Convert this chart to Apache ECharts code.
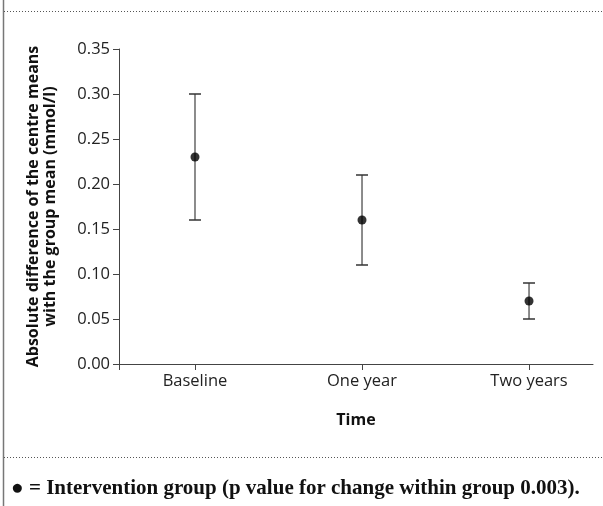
<!DOCTYPE html>
<html lang="en" style="height: 100%">
<head>
  <meta charset="utf-8">
</head>
<body style="height: 100%; margin: 0; background: #fff">
  <div id="container" style="width: 603px; height: 506px"></div>

  <script type="text/javascript" src="https://fastly.jsdelivr.net/npm/echarts@6/dist/echarts.min.js"></script>

  <script type="text/javascript">
    const categories = ['Baseline', 'One year', 'Two years'];
    const means = [0.23, 0.16, 0.07];
    const lower = [0.16, 0.11, 0.05];
    const upper = [0.30, 0.21, 0.09];
    const yTicks = [0, 0.05, 0.10, 0.15, 0.20, 0.25, 0.30, 0.35];

    const xPos = categories.map((c, i) => i + 1);
    const errData = categories.map((c, i) => [xPos[i], lower[i], upper[i]]);
    const pointData = categories.map((c, i) => [xPos[i], means[i]]);

    var dom = document.getElementById('container');
    var myChart = echarts.init(dom, null, { renderer: 'canvas' });

    var axisColor = '#444';
    var sansFont = '"Open Sans", sans-serif';

    var option = {
      animation: false,
      grid: { left: 119, right: 10, top: 49, bottom: 142 },
      xAxis: {
        type: 'value',
        min: 0.545,
        max: 3.383,
        name: 'Time',
        nameLocation: 'middle',
        nameGap: 48,
        nameTextStyle: { fontFamily: sansFont, fontWeight: 'bold', fontSize: 16, color: '#111' },
        axisLine: { lineStyle: { color: axisColor, width: 1 } },
        axisTick: { show: true, length: 6, lineStyle: { color: axisColor }, customValues: [0.545].concat(xPos) },
        axisLabel: {
          customValues: xPos,
          margin: 9,
          fontFamily: sansFont,
          fontSize: 16.5,
          color: '#222',
          formatter: function (v) { return categories[Math.round(v) - 1]; }
        },
        splitLine: { show: false }
      },
      yAxis: {
        type: 'value',
        min: yTicks[0],
        max: yTicks[yTicks.length - 1],
        interval: 0.05,
        name: 'Absolute difference of the centre means\nwith the group mean (mmol/l)',
        nameLocation: 'middle',
        nameRotate: 90,
        nameGap: 60,
        nameTextStyle: { fontFamily: sansFont, fontWeight: 'bold', fontSize: 16, color: '#111', lineHeight: 17 },
        axisLine: { show: true, lineStyle: { color: axisColor, width: 1 } },
        axisTick: { show: true, length: 6, lineStyle: { color: axisColor } },
        axisLabel: {
          margin: 9,
          fontFamily: sansFont,
          fontSize: 16.5,
          color: '#222',
          formatter: function (v) { return v.toFixed(2); }
        },
        splitLine: { show: false }
      },
      series: [
        {
          type: 'custom',
          data: errData,
          z: 2,
          renderItem: function (params, api) {
            var x = api.value(0);
            var lo = api.coord([x, api.value(1)]);
            var hi = api.coord([x, api.value(2)]);
            var cap = 6;
            var style = { stroke: '#666', lineWidth: 1.5 };
            return {
              type: 'group',
              children: [
                { type: 'line', shape: { x1: lo[0], y1: lo[1], x2: hi[0], y2: hi[1] }, style: style },
                { type: 'line', shape: { x1: hi[0] - cap, y1: hi[1], x2: hi[0] + cap, y2: hi[1] }, style: { stroke: '#333', lineWidth: 1.5 } },
                { type: 'line', shape: { x1: lo[0] - cap, y1: lo[1], x2: lo[0] + cap, y2: lo[1] }, style: { stroke: '#333', lineWidth: 1.5 } }
              ]
            };
          }
        },
        {
          type: 'scatter',
          data: pointData,
          symbol: 'circle',
          symbolSize: 9,
          z: 3,
          itemStyle: { color: '#000' }
        }
      ],
      graphic: [
        { type: 'line', shape: { x1: 3.5, y1: 0, x2: 3.5, y2: 506 }, style: { stroke: '#777', lineWidth: 1.5 } },
        { type: 'line', shape: { x1: 4, y1: 11.5, x2: 603, y2: 11.5 }, style: { stroke: '#555', lineWidth: 1, lineDash: [1, 2] } },
        { type: 'line', shape: { x1: 4, y1: 457.5, x2: 603, y2: 457.5 }, style: { stroke: '#555', lineWidth: 1, lineDash: [1, 2] } },
        {
          type: 'text',
          left: 11,
          top: 478,
          style: {
            text: '\u25CF = Intervention group (p value for change within group 0.003).',
            fontFamily: '"Liberation Serif", serif',
            fontWeight: 'bold',
            fontSize: 21,
            fill: '#111'
          }
        }
      ]
    };

    myChart.setOption(option);
    window.addEventListener('resize', myChart.resize);
  </script>
</body>
</html>
